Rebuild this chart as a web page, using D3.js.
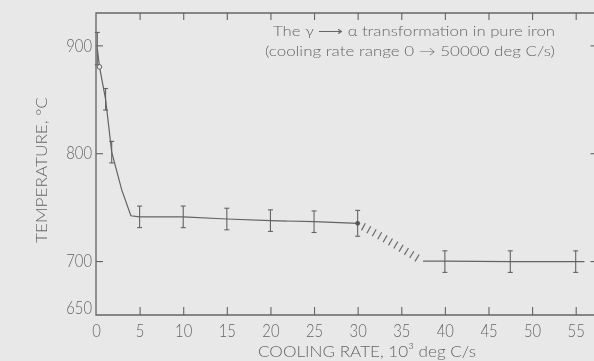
<!DOCTYPE html>
<html><head><meta charset="utf-8">
<script src="https://cdn.jsdelivr.net/npm/d3@7"></script>
<style>
html,body{margin:0;padding:0;background:#e8e8e8;}
svg{display:block;}
text{font-family:"Lato","Open Sans",sans-serif;font-weight:300;fill:#656565;}
</style></head><body>
<svg id="c" width="594" height="361"></svg>
<script>
// ---- data ----
const xTicks = [0,5,10,15,20,25,30,35,40,45,50,55];
const yTicks = [650,700,800,900];
// cooling curve, steep part + plateau (deg C vs 10^3 deg C/s)
const curveX = [0.15,0.4,1.1,1.8,2.95,4.0,5,10,15,20,25,30];
const curveY = [897,880,850,801,766,742,741,741,739,737.5,736.5,735];
// transition region drawn hatched
const hatchX = [30.6,33.5,37.0];
const hatchY = [732,719,702];
// lower plateau
const lowX = [37.5,40,47.5,55,56];
const lowY = [700,700,699.5,699.5,699.5];
// error-bar points
const errX = [0.15,1.1,1.8,5,10,15,20,25,30,40,47.5,55];
const errY = [897,850,801,741,741,739,737.5,736.5,735,699.5,699.5,699.5];
const errH = [15,10,10,10,10,10,10,10,12,10,10,10];
const openPt = [0.4,880];
const filledPt = [30,735];

(function(){
const svg = d3.select("#c");
const x = d3.scaleLinear().domain([0,57.5]).range([96,597.5]);
const y = d3.scaleLinear().domain([650,930]).range([315,13]);
const ink="#636363";
const defs = svg.append("defs");
defs.append("filter").attr("id","blur").append("feGaussianBlur").attr("stdDeviation",0.55);
const g = svg.append("g").attr("filter","url(#blur)");

// frame
g.append("path").attr("d",`M${x(0)},${y(930)}H${x(57.5)}V${y(650)}H${x(0)}Z`)
  .attr("fill","none").attr("stroke",ink).attr("stroke-width",1.3);

// axes with inward ticks
const bottomAx = d3.axisBottom(x).tickValues(xTicks).tickSize(-8).tickPadding(12).tickFormat(d3.format("d"));
const ba = g.append("g").attr("transform",`translate(0,${y(650)})`).call(bottomAx);
const topAx = d3.axisTop(x).tickValues(xTicks.filter(d=>d>0)).tickSize(-7).tickFormat("");
const ta = g.append("g").attr("transform",`translate(0,${y(930)})`).call(topAx);
const leftAx = d3.axisLeft(y).tickValues(yTicks).tickSize(-7).tickPadding(4).tickFormat(d3.format("d"));
const la = g.append("g").attr("transform",`translate(${x(0)},0)`).call(leftAx);
const rightAx = d3.axisRight(y).tickValues([700,800,900]).tickSize(-7).tickFormat("");
const ra = g.append("g").attr("transform",`translate(${x(57.5)},0)`).call(rightAx);
[ba,ta,la,ra].forEach(a=>{
  a.select(".domain").remove();
  a.selectAll("line").attr("stroke",ink).attr("stroke-width",1.1);
  a.selectAll("text").attr("fill","#666").style("font-family","Lato, sans-serif").style("font-weight",300).style("font-size","18px")
    .attr("lengthAdjust","spacingAndGlyphs").attr("textLength",function(){return this.textContent.length*8.6;});
});
la.selectAll(".tick").filter(d=>d===650).select("line").remove();
la.selectAll(".tick").filter(d=>d===650).select("text").attr("dy","-0.1em");
ba.selectAll(".tick").filter(d=>d===0).select("line").remove();
ba.selectAll("text").attr("dy","0.55em");

// curves
const line = d3.line().x(d=>x(d[0])).y(d=>y(d[1]));
g.append("path").datum(curveX.map((v,i)=>[v,curveY[i]])).attr("d",line)
  .attr("fill","none").attr("stroke",ink).attr("stroke-width",1.2);
g.append("path").datum(lowX.map((v,i)=>[v,lowY[i]])).attr("d",line)
  .attr("fill","none").attr("stroke",ink).attr("stroke-width",1.2);
const hline = d3.line().x(d=>x(d[0])).y(d=>y(d[1])).curve(d3.curveMonotoneX);
g.append("path").datum(hatchX.map((v,i)=>[v,hatchY[i]])).attr("d",hline)
  .attr("fill","none").attr("stroke","#6a6a6a").attr("stroke-width",8).attr("stroke-dasharray","1.2 5");

// error bars
const eb = g.append("g").attr("stroke",ink).attr("stroke-width",1.1);
errX.forEach((xv,i)=>{
  const cx=x(xv), y1=y(errY[i]+errH[i]), y2=y(errY[i]-errH[i]);
  eb.append("line").attr("x1",cx).attr("x2",cx).attr("y1",y1).attr("y2",y2);
  eb.append("line").attr("x1",cx-2.5).attr("x2",cx+2.5).attr("y1",y1).attr("y2",y1);
  eb.append("line").attr("x1",cx-2.5).attr("x2",cx+2.5).attr("y1",y2).attr("y2",y2);
});
g.append("circle").attr("cx",x(openPt[0])).attr("cy",y(openPt[1])).attr("r",2.3)
  .attr("fill","#e8e8e8").attr("stroke",ink).attr("stroke-width",1);
g.append("circle").attr("cx",x(filledPt[0])).attr("cy",y(filledPt[1])).attr("r",2.4).attr("fill","#555");

// labels
g.append("text").attr("transform","translate(47,170) rotate(-90)").attr("text-anchor","middle")
  .style("font-size","15px").attr("textLength",146).attr("lengthAdjust","spacingAndGlyphs").text("TEMPERATURE, °C");
g.append("text").attr("x",258).attr("y",357).style("font-size","16px")
  .attr("textLength",218).attr("lengthAdjust","spacingAndGlyphs").text("COOLING RATE, 10³ deg C/s");
g.append("text").attr("x",273).attr("y",36).style("font-size","13.5px")
  .attr("textLength",282).attr("lengthAdjust","spacingAndGlyphs").text("The γ ⟶ α transformation in pure iron");
g.append("text").attr("x",265).attr("y",56).style("font-size","13.5px")
  .attr("textLength",290).attr("lengthAdjust","spacingAndGlyphs").text("(cooling rate range 0 → 50000 deg C/s)");
})();
</script></body></html>
